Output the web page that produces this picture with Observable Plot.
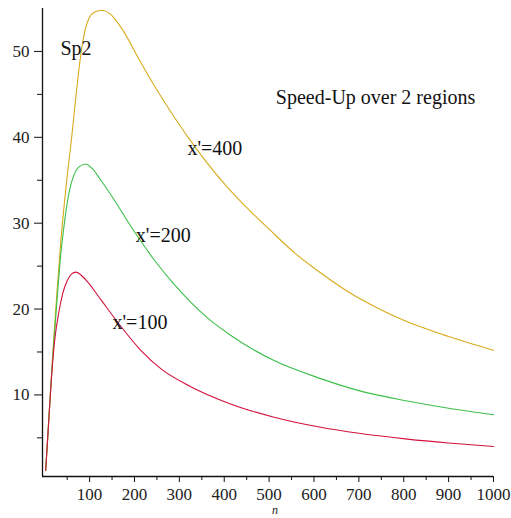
<!DOCTYPE html>
<html>
<head>
<meta charset="utf-8">
<script src="https://cdn.jsdelivr.net/npm/d3@7"></script>
<script src="https://cdn.jsdelivr.net/npm/@observablehq/plot@0.6"></script>
<style>
  html, body { margin: 0; padding: 0; background: #fff; }
</style>
</head>
<body>
<div id="chart"></div>
<script>
// x'=400 series
const n400 = [2, 6, 10, 14, 20, 28, 36, 48, 60, 70, 80, 90, 100, 112, 127, 145, 170, 214, 250, 288, 336, 400, 437, 500, 560, 615, 689, 750, 800, 900, 1000];
const sp400 = [1.2, 4.5, 8, 11.5, 16.5, 22.5, 28, 34.5, 40, 45, 49.5, 52.5, 54, 54.6, 54.8, 54.4, 52.8, 48.7, 45.5, 42.4, 38.8, 34.6, 32.5, 29.3, 26.4, 24.2, 21.6, 19.9, 18.7, 16.8, 15.2];
// x'=200 series
const n200 = [2, 6, 10, 14, 20, 28, 36, 45, 55, 65, 75, 91, 105, 125, 160, 191, 209, 250, 288, 362, 414, 511, 615, 700, 808, 900, 1000];
const sp200 = [1.2, 4.5, 8, 11.3, 16, 21.5, 26.5, 30.5, 33.8, 35.6, 36.5, 36.9, 36.4, 35.0, 32.3, 29.7, 28.3, 25.3, 22.9, 19.0, 16.95, 14.0, 11.9, 10.5, 9.3, 8.45, 7.7];
// x'=100 series
const n100 = [2, 6, 10, 15, 22, 32, 40, 50, 60, 69, 80, 95, 125, 162, 214, 260, 320, 414, 511, 615, 700, 808, 900, 1000];
const sp100 = [1.2, 4.5, 7.9, 12, 16.3, 19.8, 21.8, 23.3, 24.1, 24.3, 24.0, 23.2, 21.1, 18.5, 15.2, 13.0, 11.1, 8.95, 7.4, 6.23, 5.53, 4.85, 4.4, 4.0];

const seriesNames = ["x'=400", "x'=200", "x'=100"];
const seriesColors = ["#d8aa1c", "#3cbf4a", "#d3123c"];

const xMajorTicks = [100, 200, 300, 400, 500, 600, 700, 800, 900, 1000];
const xMinorTicks = [50, 150, 250, 350, 450, 550, 650, 750, 850, 950];
const yMajorTicks = [10, 20, 30, 40, 50];
const yMinorTicks = [5, 15, 25, 35, 45];

// annotation labels (anchored in data coordinates)
const labelTexts = ["Sp2", "Speed-Up over 2 regions", "x'=400", "x'=200", "x'=100"];
const labelN = [35, 515, 318, 203, 151];
const labelV = [50.3, 44.6, 38.7, 28.5, 18.45];

const rows = [];
[[n400, sp400], [n200, sp200], [n100, sp100]].forEach(([ns, vs], i) => {
  ns.forEach((n, j) => rows.push({series: seriesNames[i], n, v: vs[j]}));
});
const labels = labelTexts.map((t, i) => ({text: t, n: labelN[i], v: labelV[i]}));

const xDomain = [-5, 1000];
const yDomain = [0.5, 55];

const chart = Plot.plot({
  width: 511,
  height: 518,
  marginLeft: 42,
  marginRight: 18,
  marginTop: 8,
  marginBottom: 42,
  style: {fontFamily: "'Liberation Serif', 'Times New Roman', serif", fontSize: "17px", background: "#fff", color: "#222"},
  x: {domain: xDomain},
  y: {domain: yDomain},
  color: {domain: seriesNames, range: seriesColors},
  marks: [
    Plot.ruleX([xDomain[0]], {stroke: "#111", strokeWidth: 1.3}),
    Plot.ruleY([yDomain[0]], {stroke: "#111", strokeWidth: 1.3}),
    Plot.axisX(xMajorTicks, {tickSize: 6, tickPadding: 5, tickFormat: d => String(d), label: null, stroke: "#111"}),
    Plot.axisX(xMinorTicks, {tickSize: 4, tickFormat: () => "", label: null, stroke: "#111"}),
    Plot.axisY(yMajorTicks, {tickSize: 8, tickPadding: 5, label: null, stroke: "#111"}),
    Plot.axisY(yMinorTicks, {tickSize: 5, tickFormat: () => "", label: null, stroke: "#111"}),
    Plot.line(rows, {x: "n", y: "v", z: "series", stroke: "series", strokeWidth: 1.1, curve: "monotone-x"}),
    Plot.text(labels, {x: "n", y: "v", text: "text", textAnchor: "start", fontSize: 20, fill: "#111"}),
    Plot.text(["n"], {frameAnchor: "bottom", dx: 7, dy: 37, fontSize: 12, fontStyle: "italic", fill: "#222"})
  ]
});
document.getElementById("chart").appendChild(chart);
</script>
</body>
</html>
